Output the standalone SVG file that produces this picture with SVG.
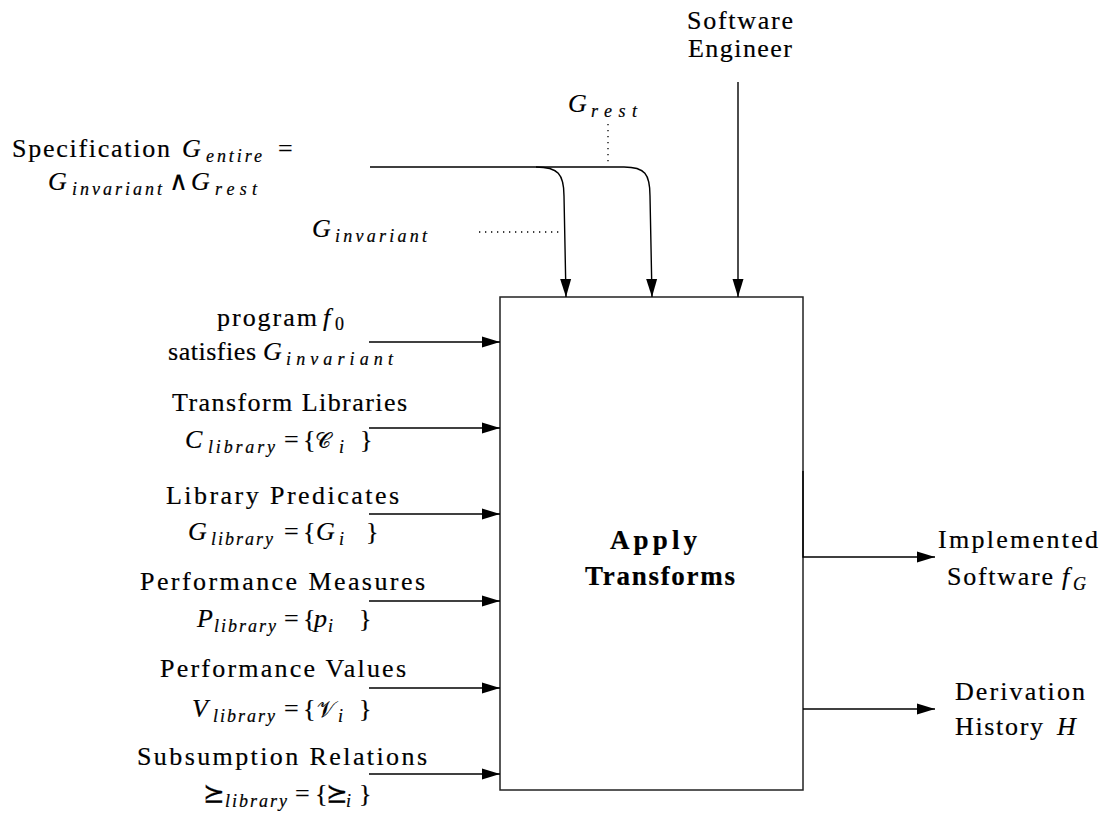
<svg xmlns="http://www.w3.org/2000/svg" width="1103" height="818" viewBox="0 0 1103 818">
  <style>
    text { font-family: "Liberation Serif", "DejaVu Serif", serif; font-size: 26px; fill: #000; stroke: #000; stroke-width: 0.2; }
    .m { font-style: italic; }
    .s { font-style: italic; font-size: 18px; }
    .r { font-size: 18px; }
    .cal { font-family: "DejaVu Serif", "Noto Sans", serif; font-size: 22px; }
    .b { font-weight: bold; font-size: 27px; }
    .ln { fill: none; stroke: #000; stroke-width: 1.4; }
    .dot { fill: none; stroke: #000; stroke-width: 1.3; stroke-dasharray: 1.3 4.7; }
    .box { fill: #fff; stroke: #222; stroke-width: 1.5; }
  </style>
  <defs>
    <marker id="arr" markerUnits="userSpaceOnUse" markerWidth="20" markerHeight="12" refX="18" refY="6" orient="auto">
      <path d="M0,0.5 L18,6 L0,11.5 Z" fill="#000"/>
    </marker>
  </defs>

  <!-- central process box -->
  <g id="apply-transforms">
    <rect class="box" x="500" y="297" width="303" height="493"/>
    <text class="b" x="610" y="549" textLength="87">Apply</text>
    <text class="b" x="585" y="585" textLength="150">Transforms</text>
  </g>

  <!-- connectors -->
  <g id="connectors">
    <path class="ln" d="M370,167 H536 C558,167 564,174 564,196 L566,297" marker-end="url(#arr)"/>
    <path class="ln" d="M536,167 H624 C645,167 650,174 650,196 L652,297" marker-end="url(#arr)"/>
    <path class="ln" d="M738,82 V297" marker-end="url(#arr)"/>
    <path class="dot" d="M608,124 V166"/>
    <path class="dot" d="M479,232 H563"/>
    <path class="ln" d="M369,342 H500" marker-end="url(#arr)"/>
    <path class="ln" d="M369,428 H500" marker-end="url(#arr)"/>
    <path class="ln" d="M369,514 H500" marker-end="url(#arr)"/>
    <path class="ln" d="M369,601 H500" marker-end="url(#arr)"/>
    <path class="ln" d="M369,688 H500" marker-end="url(#arr)"/>
    <path class="ln" d="M369,774 H500" marker-end="url(#arr)"/>
    <path class="ln" d="M803,471 V557 H935" marker-end="url(#arr)"/>
    <path class="ln" d="M803,709 H935" marker-end="url(#arr)"/>
  </g>

  <!-- inputs -->
  <g id="software-engineer">
    <text x="687" y="29" textLength="106">Software</text>
    <text x="688" y="57" textLength="104">Engineer</text>
  </g>

  <g id="specification">
    <text x="12" y="157" textLength="158">Specification</text>
    <text class="m" x="182" y="157">G</text>
    <text class="s" x="206" y="162" textLength="56">entire</text>
    <text x="278" y="157">=</text>
    <text class="m" x="48" y="190">G</text>
    <text class="s" x="72" y="195" textLength="90">invariant</text>
    <text x="169" y="190">∧</text>
    <text class="m" x="191" y="190">G</text>
    <text class="s" x="215" y="195" textLength="42">rest</text>
  </g>

  <g id="g-rest">
    <text class="m" x="568" y="112">G</text>
    <text class="s" x="591" y="117" textLength="46">rest</text>
  </g>

  <g id="g-invariant">
    <text class="m" x="312" y="237">G</text>
    <text class="s" x="335" y="242" textLength="92">invariant</text>
  </g>

  <g id="program">
    <text x="217" y="326" textLength="100">program</text>
    <text class="m" x="323" y="326">f</text>
    <text class="r" x="335" y="330">0</text>
    <text x="168" y="360" textLength="88">satisfies</text>
    <text class="m" x="263" y="360">G</text>
    <text class="s" x="286" y="365" textLength="107">invariant</text>
  </g>

  <g id="transform-libraries">
    <text x="172" y="411" textLength="235">Transform Libraries</text>
    <text class="m" x="185" y="448">C</text>
    <text class="s" x="208" y="453" textLength="67">library</text>
    <text x="284" y="448">=</text>
    <text x="303" y="448">{</text>
    <text class="cal" x="315" y="448">𝒞</text>
    <text class="s" x="339" y="453">i</text>
    <text x="360" y="448">}</text>
  </g>

  <g id="library-predicates">
    <text x="166" y="504" textLength="233">Library Predicates</text>
    <text class="m" x="188" y="540">G</text>
    <text class="s" x="211" y="545" textLength="62">library</text>
    <text x="284" y="540">=</text>
    <text x="303" y="540">{</text>
    <text class="m" x="316" y="540">G</text>
    <text class="s" x="339" y="545">i</text>
    <text x="366" y="540">}</text>
  </g>

  <g id="performance-measures">
    <text x="140" y="590" textLength="285">Performance Measures</text>
    <text class="m" x="197" y="627">P</text>
    <text class="s" x="214" y="632" textLength="62">library</text>
    <text x="284" y="627">=</text>
    <text x="303" y="627">{</text>
    <text class="m" x="314" y="627">p</text>
    <text class="s" x="328" y="632">i</text>
    <text x="359" y="627">}</text>
  </g>

  <g id="performance-values">
    <text x="160" y="677" textLength="246">Performance Values</text>
    <text class="m" x="192" y="717">V</text>
    <text class="s" x="213" y="722" textLength="62">library</text>
    <text x="284" y="717">=</text>
    <text x="303" y="717">{</text>
    <text class="cal" x="317" y="717">𝒱</text>
    <text class="s" x="338" y="722">i</text>
    <text x="359" y="717">}</text>
  </g>

  <g id="subsumption-relations">
    <text x="137" y="765" textLength="290">Subsumption Relations</text>
    <text x="203" y="802">⪰</text>
    <text class="s" x="225" y="807" textLength="62">library</text>
    <text x="295" y="802">=</text>
    <text x="315" y="802">{</text>
    <text x="326" y="802">⪰</text>
    <text class="s" x="346" y="807">i</text>
    <text x="359" y="802">}</text>
  </g>

  <!-- outputs -->
  <g id="implemented-software">
    <text x="938" y="548" textLength="160">Implemented</text>
    <text x="947" y="585" textLength="106">Software</text>
    <text class="m" x="1062" y="585">f</text>
    <text class="s" x="1073" y="590">G</text>
  </g>

  <g id="derivation-history">
    <text x="955" y="700" textLength="130">Derivation</text>
    <text x="955" y="735" textLength="88">History</text>
    <text class="m" x="1057" y="735">H</text>
  </g>
</svg>
